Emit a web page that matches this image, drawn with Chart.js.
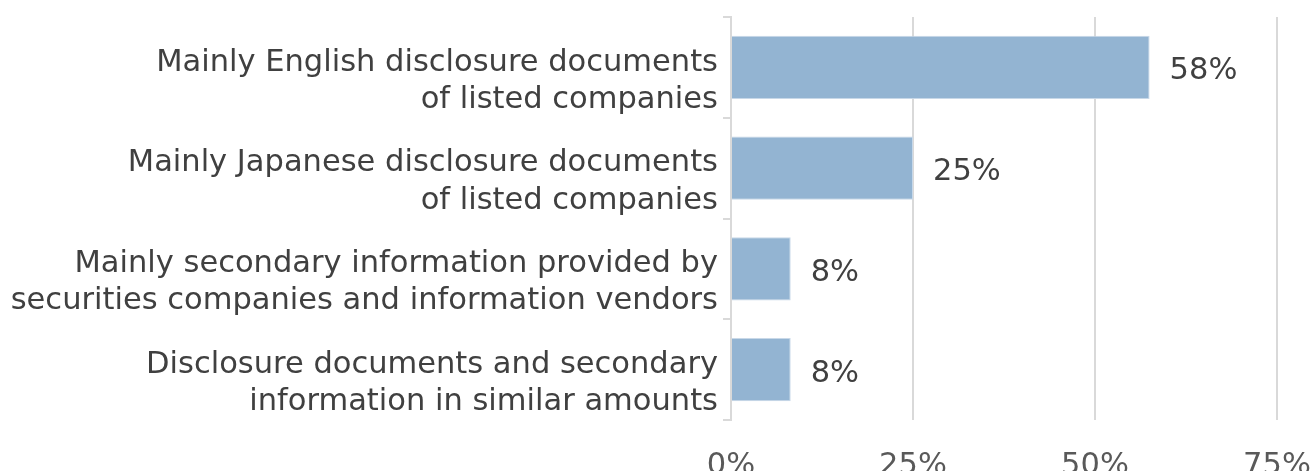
<!DOCTYPE html>
<html>
<head>
<meta charset="utf-8">
<title>Information sources</title>
<script src="https://cdn.jsdelivr.net/npm/chart.js@4"></script>
<style>
    html, body { margin: 0; padding: 0; background: #ffffff; }
    #wrap { width: 1311px; height: 471px; position: relative; }
</style>
</head>
<body>
<div id="wrap"><canvas id="sourceChart"></canvas></div>
<script>
// Dados do gráfico
const categories = [
    ['Mainly English disclosure documents', 'of listed companies'],
    ['Mainly Japanese disclosure documents', 'of listed companies'],
    ['Mainly secondary information provided by', 'securities companies and information vendors'],
    ['Disclosure documents and secondary', 'information in similar amounts']
];
const shares = [57.5, 25.0, 8.2, 8.2];
const shareLabels = ['58%', '25%', '8%', '8%'];
const axisTicks = [0, 25, 50, 75];

const FONT = '"DejaVu Sans", Verdana, sans-serif';
const GRID = '#d9d9d9';

// Rótulos de valor ao lado das barras
const valueLabels = {
    id: 'valueLabels',
    afterDatasetsDraw(chart) {
        const ctx = chart.ctx;
        const meta = chart.getDatasetMeta(0);
        ctx.save();
        ctx.font = '30.5px ' + FONT;
        ctx.fillStyle = '#404040';
        ctx.textAlign = 'left';
        ctx.textBaseline = 'middle';
        meta.data.forEach((bar, i) => {
            ctx.fillText(shareLabels[i], bar.x + 20, bar.y + 4);
        });
        ctx.restore();
    }
};

document.addEventListener('DOMContentLoaded', function() {
    const ctx = document.getElementById('sourceChart').getContext('2d');

    new Chart(ctx, {
        type: 'bar',
        data: {
            labels: categories,
            datasets: [{
                data: shares,
                backgroundColor: '#93b4d2',
                borderColor: '#c8d8e8',
                borderWidth: 1,
                barPercentage: 0.63,
                categoryPercentage: 1
            }]
        },
        options: {
            indexAxis: 'y',
            responsive: true,
            maintainAspectRatio: false,
            animation: false,
            layout: { padding: { top: 17, right: 34, left: 0, bottom: 0 } },
            plugins: {
                legend: { display: false },
                tooltip: { enabled: false }
            },
            scales: {
                x: {
                    min: 0,
                    max: 75,
                    afterBuildTicks(scale) {
                        scale.ticks = axisTicks.map(v => ({ value: v }));
                    },
                    afterFit(scale) {
                        scale.height = 51;
                        scale.paddingLeft = 0;
                        scale.paddingRight = 0;
                    },
                    grid: {
                        color: GRID,
                        lineWidth: 2,
                        drawTicks: false
                    },
                    border: { display: false },
                    ticks: {
                        padding: 28,
                        color: '#595959',
                        font: { family: FONT, size: 30.5 },
                        callback: v => v + '%'
                    }
                },
                y: {
                    afterFit(scale) {
                        scale.width = 731;
                        scale.paddingTop = 0;
                        scale.paddingBottom = 0;
                    },
                    grid: {
                        color: GRID,
                        lineWidth: 2,
                        drawOnChartArea: false,
                        tickLength: 8,
                        offset: true
                    },
                    border: { display: true, color: GRID, width: 2 },
                    ticks: {
                        padding: 5,
                        labelOffset: 14,
                        color: '#404040',
                        font: { family: FONT, size: 30.5, lineHeight: 1.22 }
                    }
                }
            }
        },
        plugins: [valueLabels]
    });
});
</script>
</body>
</html>
